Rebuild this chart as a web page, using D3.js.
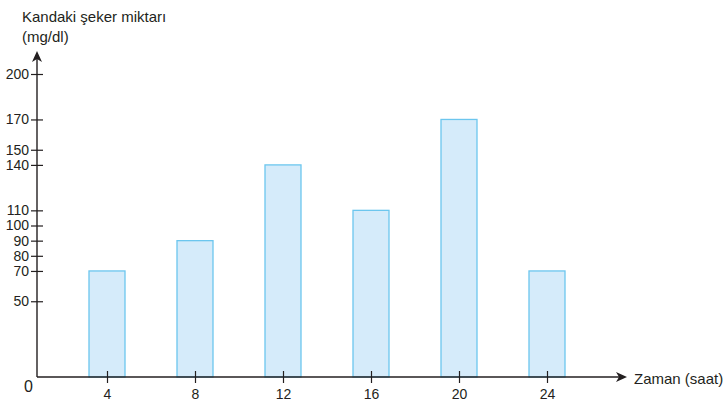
<!DOCTYPE html>
<meta charset="utf-8">
<style>
body { margin: 0; background: #fff; }
text { font-family: "Liberation Sans", Arial, sans-serif; fill: #231f20; }
</style>
<svg width="726" height="407"></svg>
<script src="https://cdn.jsdelivr.net/npm/d3@7"></script>
<script>

// hours on the x axis and blood sugar in mg/dl
var hours = [4, 8, 12, 16, 20, 24];
var sugar = [70, 90, 140, 110, 170, 70];
var yTicks = [50, 70, 80, 90, 100, 110, 140, 150, 170, 200];

var svg = d3.select("svg");

var x = d3.scaleLinear().domain([4, 24]).range([107, 547]);
var y = d3.scaleLinear().domain([0, 200]).range([377, 74]);
var barW = 36;

// bars
svg.append("g").selectAll("rect")
    .data(hours)
  .enter().append("rect")
    .attr("x", function(d) { return x(d) - barW / 2; })
    .attr("y", function(d, i) { return y(sugar[i]); })
    .attr("width", barW)
    .attr("height", function(d, i) { return y(0) - y(sugar[i]); })
    .attr("fill", "#d5ebfa")
    .attr("stroke", "#6cc6ee")
    .attr("stroke-width", 1.3);

// y axis
var yAxis = svg.append("g").attr("transform", "translate(37,0)")
    .call(d3.axisLeft(y).tickValues(yTicks).tickSize(6).tickSizeOuter(0));
yAxis.select(".domain").remove();
yAxis.selectAll(".tick line").attr("x1", -6).attr("x2", 6).attr("stroke", "#231f20").attr("stroke-width", 1.2);
yAxis.selectAll(".tick text").attr("x", -8).attr("font-size", 14)
    .attr("font-family", "'Liberation Sans', Arial, sans-serif").attr("fill", "#231f20");

svg.append("line").attr("x1", 37).attr("x2", 37).attr("y1", y(0)).attr("y2", 58)
    .attr("stroke", "#231f20").attr("stroke-width", 1.4);
svg.append("path").attr("d", "M37,51L32,62L37,59L42,62Z").attr("fill", "#231f20");

// x axis
var xAxis = svg.append("g").attr("transform", "translate(0," + y(0) + ")")
    .call(d3.axisBottom(x).tickValues(hours).tickSize(6).tickSizeOuter(0));
xAxis.select(".domain").remove();
xAxis.selectAll(".tick line").attr("y1", -6).attr("y2", 6).attr("stroke", "#231f20").attr("stroke-width", 1.2);
xAxis.selectAll(".tick text").attr("y", 12).attr("font-size", 14)
    .attr("font-family", "'Liberation Sans', Arial, sans-serif").attr("fill", "#231f20");

svg.append("line").attr("x1", 37).attr("x2", 619).attr("y1", y(0)).attr("y2", y(0))
    .attr("stroke", "#231f20").attr("stroke-width", 1.4);
svg.append("path").attr("d", "M627,377L616,372L619,377L616,382Z").attr("fill", "#231f20");

// labels
svg.append("text").attr("x", 24).attr("y", 392).attr("font-size", 16).text("0");
svg.append("text").attr("x", 634).attr("y", 384).attr("font-size", 15).text("Zaman (saat)");
svg.append("text").attr("x", 22).attr("y", 22).attr("font-size", 15).text("Kandaki şeker miktarı");
svg.append("text").attr("x", 22).attr("y", 42).attr("font-size", 15).text("(mg/dl)");

</script>
